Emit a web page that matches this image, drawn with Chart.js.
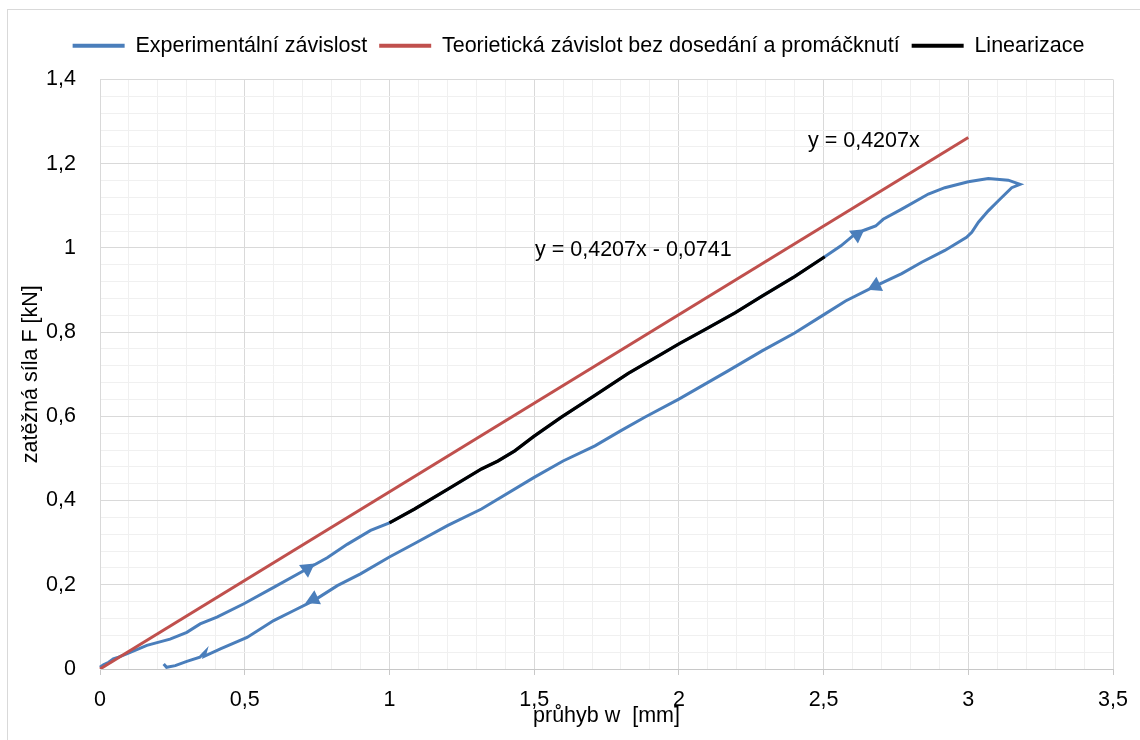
<!DOCTYPE html>
<html>
<head>
<meta charset="utf-8">
<title>Zatěžná síla a průhyb</title>
<script src="https://cdn.jsdelivr.net/npm/chart.js@4.4.1/dist/chart.umd.min.js"></script>
<style>
  html, body { margin: 0; padding: 0; background: #fff; }
  #wrap { position: relative; width: 1140px; height: 740px; }
</style>
</head>
<body>
<div id="wrap"><canvas id="chart" width="1140" height="740"></canvas></div>
<script>
// loading branch of the measured loop (w in mm, F in kN)
const loadX = [0, 0.012, 0.03, 0.046, 0.064, 0.092, 0.162, 0.242, 0.30, 0.346, 0.404, 0.497, 0.60, 0.716, 0.785, 0.854, 0.935,
  1.0, 1.087, 1.202, 1.318, 1.375, 1.433, 1.5, 1.594, 1.71, 1.825, 1.94, 2.0, 2.09, 2.194, 2.286, 2.40, 2.504,
  2.56, 2.60, 2.64, 2.68, 2.706, 2.77, 2.862, 2.919, 3.0, 3.069, 3.138, 3.179];
const loadY = [0.004, 0.010, 0.016, 0.024, 0.028, 0.036, 0.056, 0.071, 0.087, 0.107, 0.123, 0.155, 0.194, 0.238, 0.264, 0.296, 0.329,
  0.347, 0.380, 0.427, 0.475, 0.494, 0.518, 0.553, 0.598, 0.650, 0.702, 0.748, 0.772, 0.806, 0.846, 0.885, 0.932, 0.979,
  1.005, 1.028, 1.042, 1.052, 1.068, 1.092, 1.128, 1.143, 1.157, 1.165, 1.161, 1.151];

// unloading branch
const unloadX = [3.15, 3.104, 3.069, 3.035, 3.012, 2.994, 2.919, 2.839, 2.77, 2.68, 2.576, 2.493, 2.40, 2.286, 2.17, 2.0,
  1.882, 1.80, 1.71, 1.60, 1.5, 1.318, 1.202, 1.087, 1.0, 0.90, 0.82, 0.74, 0.67, 0.60, 0.508, 0.416,
  0.36, 0.365, 0.345, 0.30, 0.26, 0.23, 0.22];
const unloadY = [1.143, 1.112, 1.088, 1.061, 1.037, 1.025, 0.994, 0.966, 0.939, 0.910, 0.874, 0.838, 0.798, 0.755, 0.708, 0.641,
  0.598, 0.566, 0.530, 0.494, 0.455, 0.380, 0.341, 0.298, 0.266, 0.226, 0.198, 0.163, 0.139, 0.115, 0.075, 0.048,
  0.030, 0.042, 0.028, 0.018, 0.008, 0.004, 0.012];

// linearised part (1 .. 2.5 mm)
const linX = [1.0, 1.087, 1.202, 1.318, 1.375, 1.433, 1.5, 1.594, 1.71, 1.825, 1.94, 2.0, 2.09, 2.194, 2.286, 2.40, 2.504];
const linY = [0.347, 0.380, 0.427, 0.475, 0.494, 0.518, 0.553, 0.598, 0.650, 0.702, 0.748, 0.772, 0.806, 0.846, 0.885, 0.932, 0.979];

// theory without seating and indentation
const theoryX = [0, 3];
const theoryY = [0, 1.2621];

// direction arrows on the loop
const arrowX = [0.716, 2.616, 2.68, 0.738];
const arrowY = [0.238, 1.032, 0.910, 0.166];
const arrowRot = [175, 175, 5, 5];

// trendline equations
const eqText = ['y = 0,4207x', 'y = 0,4207x - 0,0741'];
const eqX = [2.446, 1.503];
const eqY = [1.253, 0.994];

const xMajor = [0, 0.5, 1, 1.5, 2, 2.5, 3, 3.5];
const yMajor = [0, 0.2, 0.4, 0.6, 0.8, 1, 1.2, 1.4];

const BLUE = '#4a7ebb';
const RED = '#c0504d';
const FONT = { family: '"Liberation Sans", Arial, sans-serif', size: 21.5 };

const pts = (xs, ys) => xs.map((x, i) => ({ x: x, y: ys[i] }));
const isMajor = (v, list) => list.some(m => Math.abs(m - v) < 1e-6);
const fmt = v => String(Math.round(v * 100) / 100).replace('.', ',');

const frame = {
  id: 'frame',
  beforeDraw(chart) {
    const c = chart.ctx;
    c.save();
    c.strokeStyle = '#d9d9d9';
    c.lineWidth = 1;
    c.strokeRect(7.5, 9.5, 1200, 800);
    c.restore();
  }
};

const legendShift = {
  id: 'legendShift',
  afterLayout(chart) {
    if (chart.legend) { chart.legend.left += 22; chart.legend.right += 22; }
  }
};

const eqLabels = {
  id: 'eqLabels',
  afterDatasetsDraw(chart) {
    const c = chart.ctx, sx = chart.scales.x, sy = chart.scales.y;
    c.save();
    c.font = FONT.size + 'px ' + FONT.family;
    c.fillStyle = '#000';
    c.textBaseline = 'middle';
    c.textAlign = 'left';
    eqText.forEach((t, i) => c.fillText(t, sx.getPixelForValue(eqX[i]), sy.getPixelForValue(eqY[i])));
    c.restore();
  }
};

new Chart(document.getElementById('chart'), {
  type: 'scatter',
  data: {
    datasets: [
      {
        label: 'Experimentální závislost',
        data: pts(loadX, loadY).concat(pts(unloadX, unloadY)),
        showLine: true, borderColor: BLUE, backgroundColor: BLUE, borderWidth: 3,
        pointRadius: 0, tension: 0, order: 3
      },
      {
        label: 'Teorietická závislot bez dosedání a promáčknutí',
        data: pts(theoryX, theoryY),
        showLine: true, borderColor: RED, backgroundColor: RED, borderWidth: 3,
        pointRadius: 0, order: 2
      },
      {
        label: 'Linearizace',
        data: pts(linX, linY),
        showLine: true, borderColor: '#000', backgroundColor: '#000', borderWidth: 3.2,
        pointRadius: 0, tension: 0, order: 1
      },
      {
        label: 'arrows',
        data: pts(arrowX, arrowY),
        showLine: false, pointStyle: 'triangle', pointRadius: 9, pointRotation: arrowRot,
        backgroundColor: BLUE, borderColor: BLUE, pointBorderWidth: 0, order: 0
      }
    ]
  },
  options: {
    responsive: false,
    animation: false,
    devicePixelRatio: 1,
    layout: { padding: { top: 23, right: 27, left: 0, bottom: 0 } },
    plugins: {
      tooltip: { enabled: false },
      legend: {
        position: 'top',
        labels: {
          boxWidth: 52, boxHeight: 4, padding: 12, color: '#000', font: FONT,
          filter: item => item.datasetIndex < 3,
          sort: (a, b) => a.datasetIndex - b.datasetIndex,
          generateLabels: chart => Chart.defaults.plugins.legend.labels.generateLabels(chart)
            .map(l => Object.assign(l, { fillStyle: l.strokeStyle, lineWidth: 0 }))
        }
      }
    },
    scales: {
      gap: {
        type: 'linear', axis: 'x', position: 'top', display: true,
        grid: { display: false, drawTicks: false }, border: { display: false },
        ticks: { display: false },
        afterFit(s) { s.height = 13; }
      },
      x: {
        type: 'linear', position: 'bottom', min: 0, max: 3.5,
        ticks: {
          stepSize: 0.1, autoSkip: false, maxRotation: 0, padding: 12, color: '#000', font: FONT,
          callback: v => isMajor(v, xMajor) ? fmt(v) : ''
        },
        grid: {
          color: c => isMajor(c.tick.value, xMajor) ? '#d9d9d9' : '#f0f0f0',
          tickColor: c => isMajor(c.tick.value, xMajor) ? '#c8c8c8' : 'rgba(0,0,0,0)',
          tickLength: 6
        },
        border: { color: '#c8c8c8' },
        title: { display: true, text: 'průhyb w  [mm]', color: '#000', font: FONT, padding: { top: 0, bottom: 11 } },
        afterFit(s) { s.height = 71; }
      },
      y: {
        type: 'linear', position: 'left', min: 0, max: 1.4,
        ticks: {
          stepSize: 0.04, autoSkip: false, padding: 24, color: '#000', font: FONT,
          callback: v => isMajor(v, yMajor) ? fmt(v) : ''
        },
        grid: {
          color: c => isMajor(c.tick.value, yMajor) ? '#d9d9d9' : '#f0f0f0',
          drawTicks: false
        },
        border: { color: '#d9d9d9' },
        title: { display: true, text: 'zatěžná síla F [kN]', color: '#000', font: FONT, padding: { top: 18, bottom: 0 } },
        afterFit(s) { s.width = 100; }
      }
    }
  },
  plugins: [frame, legendShift, eqLabels]
});
</script>
</body>
</html>
